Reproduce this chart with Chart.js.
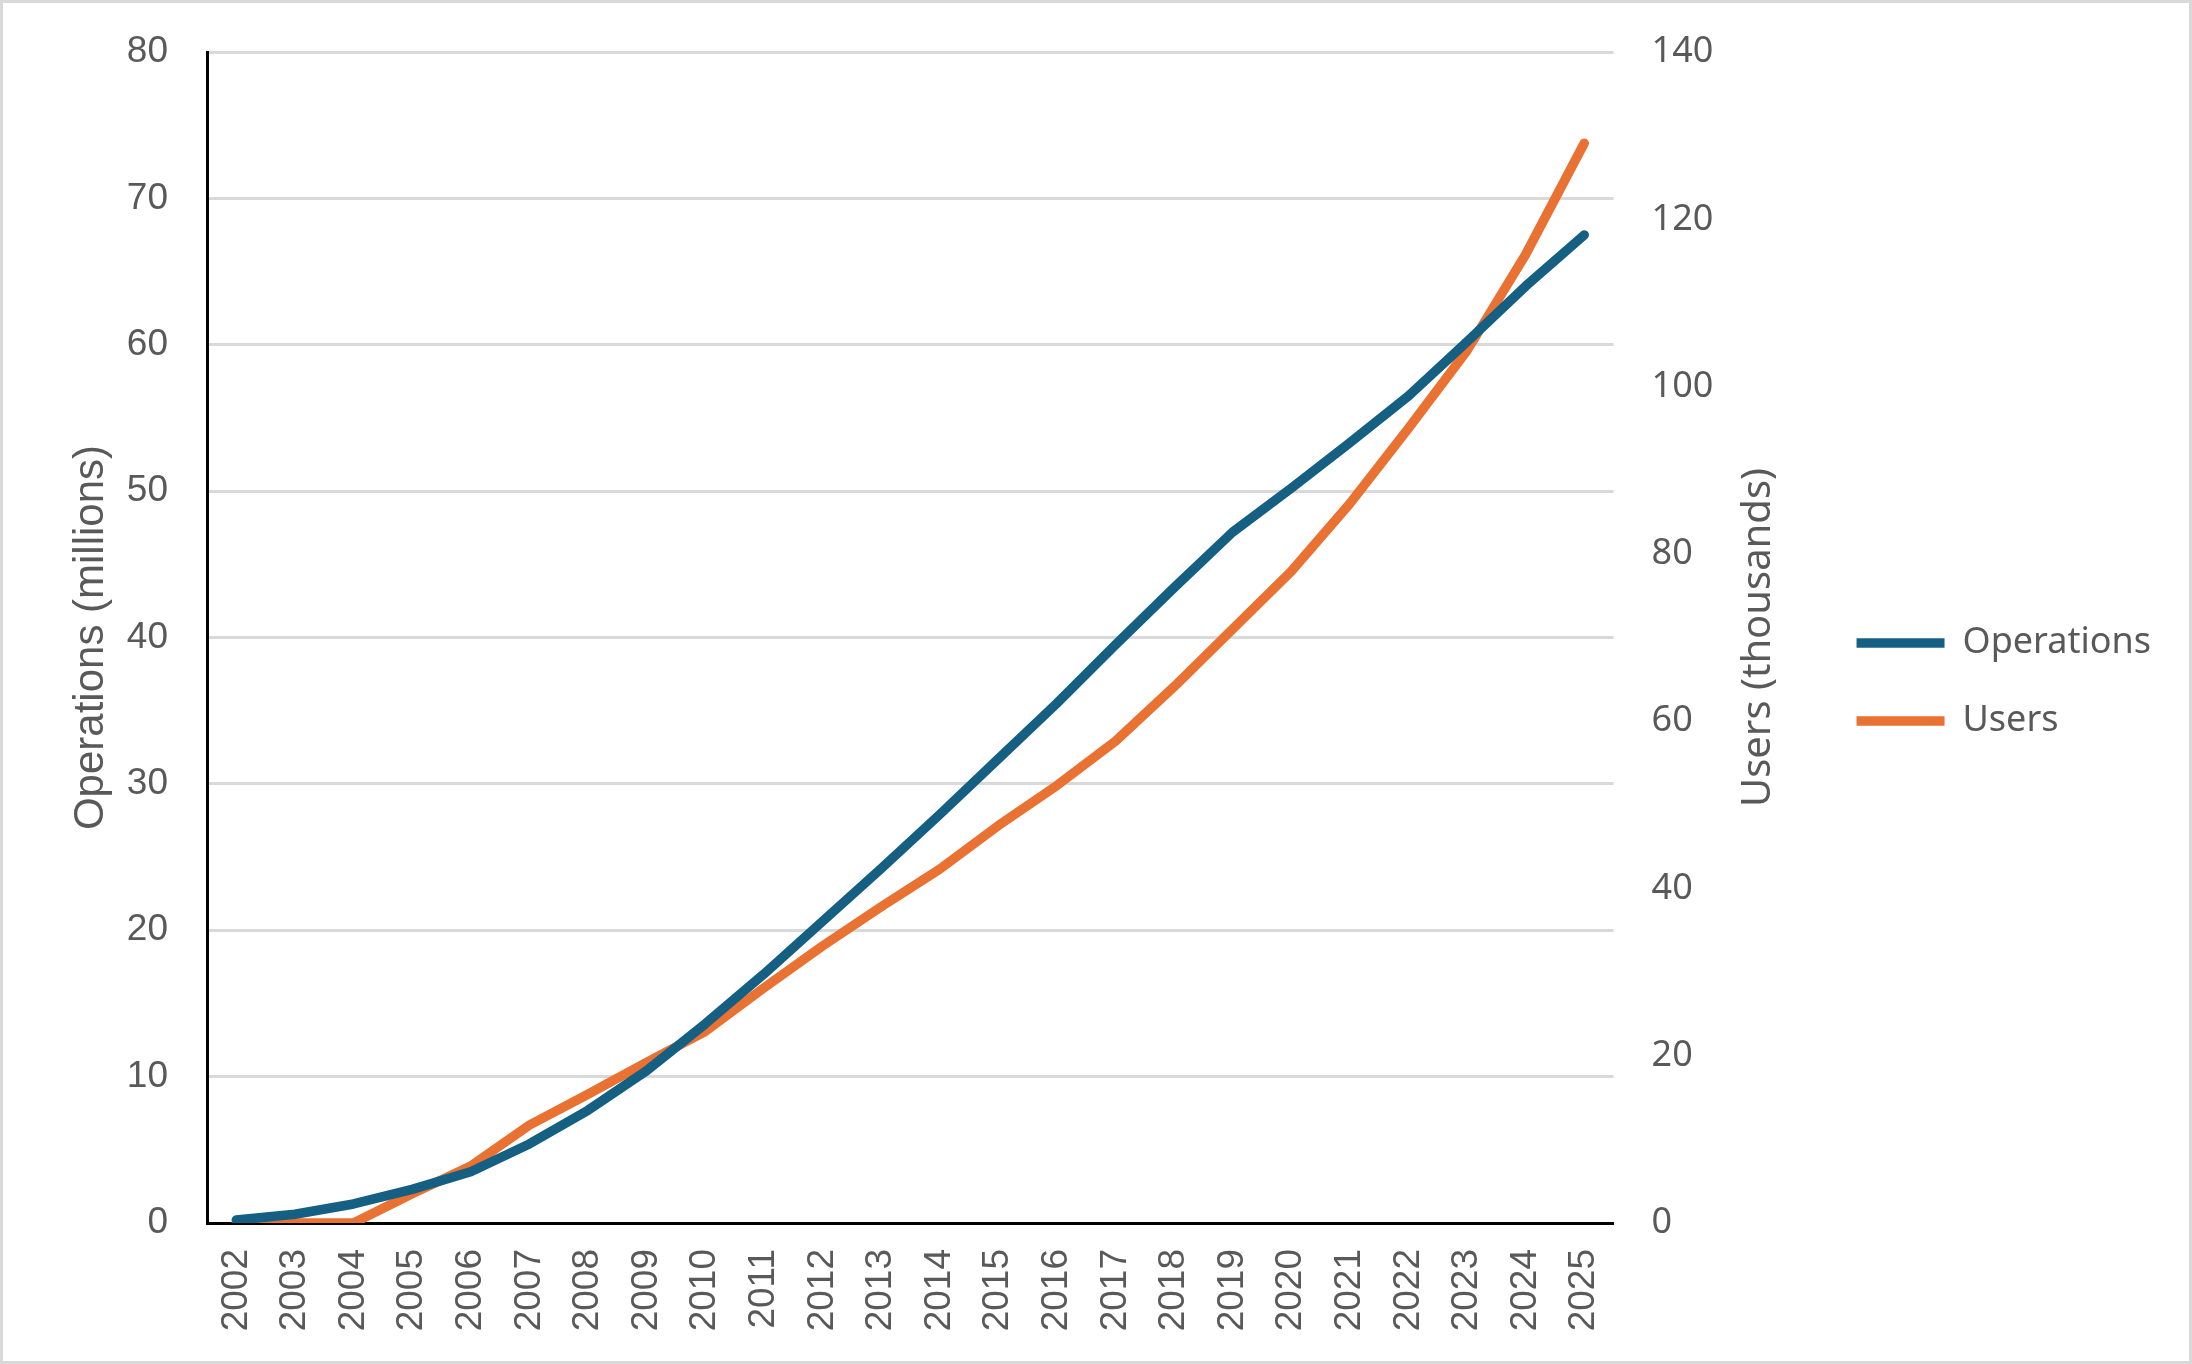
<!DOCTYPE html>
<html lang="en">
<head>
<meta charset="utf-8">
<title>Operations and Users</title>
<script src="https://cdn.jsdelivr.net/npm/chart.js@4.4.1/dist/chart.umd.min.js"></script>
<style>
    html, body { margin: 0; padding: 0; background: #ffffff; }
    #chartWrap { width: 2192px; height: 1364px; }
</style>
</head>
<body>
<div id="chartWrap">
    <canvas id="opsUsersChart" width="2192" height="1364"></canvas>
</div>
<script>
// Chart data
const years = ['2002', '2003', '2004', '2005', '2006', '2007', '2008', '2009',
    '2010', '2011', '2012', '2013', '2014', '2015', '2016', '2017',
    '2018', '2019', '2020', '2021', '2022', '2023', '2024', '2025'];

// Operations, millions (left axis)
const operations = [0.2, 0.6, 1.3, 2.3, 3.5, 5.4, 7.7, 10.4, 13.6, 17.0, 20.6, 24.2,
    27.9, 31.7, 35.5, 39.5, 43.4, 47.2, 50.2, 53.3, 56.5, 60.2, 64.0, 67.5];

// Users, thousands (right axis)
const users = [0, 0, 0, 3.5, 6.8, 11.7, 15.4, 19.2, 22.9, 28.1, 33.1, 37.8,
    42.3, 47.5, 52.3, 57.6, 64.1, 71.0, 77.9, 86.0, 95.0, 104.3, 115.8, 129.1];

const leftTicks = { min: 0, max: 80, step: 10 };
const rightTicks = { min: 0, max: 140, step: 20 };

(function() {
    'use strict';

    const TEXT_COLOR = '#595959';
    const GRID_COLOR = '#d9d9d9';
    const OPS_COLOR = '#156082';
    const USERS_COLOR = '#e97132';
    const ARIAL = "'Liberation Sans', Arial, sans-serif";
    const APTOS = "'Noto Sans', 'Liberation Sans', sans-serif";
    const PLOT_TOP = 52;
    const LINE_WIDTH = 9.5;

    /**
     * Right axis title reads bottom-to-top, so draw it by hand,
     * plus the thin grey frame round the whole picture
     */
    const extrasPlugin = {
        id: 'extras',
        beforeDraw(chart) {
            const ctx = chart.ctx;
            ctx.save();
            ctx.fillStyle = '#ffffff';
            ctx.fillRect(0, 0, chart.width, chart.height);
            ctx.restore();
        },
        afterDraw(chart) {
            const ctx = chart.ctx;
            const area = chart.chartArea;
            const scale = chart.scales.y1;

            ctx.save();
            ctx.translate(scale.left + 145, (area.top + area.bottom) / 2);
            ctx.rotate(-Math.PI / 2);
            ctx.font = '40px ' + APTOS;
            ctx.fillStyle = TEXT_COLOR;
            ctx.textAlign = 'center';
            ctx.textBaseline = 'middle';
            ctx.fillText('Users (thousands)', 0, 0);
            ctx.restore();

            ctx.save();
            ctx.strokeStyle = GRID_COLOR;
            ctx.lineWidth = 3;
            ctx.strokeRect(1.5, 1.5, chart.width - 3, chart.height - 3);
            ctx.restore();
        }
    };

    /**
     * Pin the vertical axes' overhang so the plot top sits where it should
     */
    function pinVerticalPadding(scale) {
        scale.paddingTop = PLOT_TOP;
        scale.paddingBottom = 0;
    }

    function initChart() {
        const canvas = document.getElementById('opsUsersChart');
        if (!canvas) return;

        new Chart(canvas.getContext('2d'), {
            type: 'line',
            data: {
                labels: years,
                datasets: [
                    {
                        label: 'Operations',
                        data: operations,
                        yAxisID: 'y',
                        borderColor: OPS_COLOR,
                        backgroundColor: OPS_COLOR,
                        borderWidth: LINE_WIDTH,
                        borderCapStyle: 'round',
                        borderJoinStyle: 'round',
                        pointRadius: 0,
                        tension: 0
                    },
                    {
                        label: 'Users',
                        data: users,
                        yAxisID: 'y1',
                        borderColor: USERS_COLOR,
                        backgroundColor: USERS_COLOR,
                        borderWidth: LINE_WIDTH,
                        borderCapStyle: 'round',
                        borderJoinStyle: 'round',
                        pointRadius: 0,
                        tension: 0
                    }
                ]
            },
            options: {
                responsive: false,
                animation: false,
                devicePixelRatio: 1,
                layout: {
                    padding: { top: 0, right: 31, bottom: 0, left: 0 }
                },
                plugins: {
                    legend: {
                        display: true,
                        position: 'right',
                        labels: {
                            color: TEXT_COLOR,
                            usePointStyle: true,
                            pointStyle: 'line',
                            pointStyleWidth: 88,
                            padding: 42,
                            font: { family: APTOS, size: 36 }
                        }
                    },
                    tooltip: { enabled: false }
                },
                scales: {
                    x: {
                        offset: true,
                        grid: { display: false, drawTicks: false },
                        border: { display: true, color: '#000000', width: 3 },
                        ticks: {
                            color: TEXT_COLOR,
                            padding: 26,
                            minRotation: 90,
                            maxRotation: 90,
                            autoSkip: false,
                            font: { family: ARIAL, size: 37 }
                        },
                        afterFit(scale) {
                            scale.height = 141;
                        }
                    },
                    y: {
                        position: 'left',
                        min: leftTicks.min,
                        max: leftTicks.max,
                        grid: { color: GRID_COLOR, lineWidth: 3, drawTicks: false },
                        border: { display: true, color: '#000000', width: 3 },
                        ticks: {
                            stepSize: leftTicks.step,
                            color: TEXT_COLOR,
                            padding: 39,
                            font: { family: ARIAL, size: 37 }
                        },
                        title: {
                            display: true,
                            text: 'Operations (millions)',
                            color: TEXT_COLOR,
                            padding: { top: 66, bottom: 0 },
                            font: { family: ARIAL, size: 42 }
                        },
                        afterFit(scale) {
                            scale.width = 207;
                            pinVerticalPadding(scale);
                        }
                    },
                    y1: {
                        position: 'right',
                        min: rightTicks.min,
                        max: rightTicks.max,
                        grid: { display: false, drawTicks: false },
                        border: { display: false },
                        ticks: {
                            stepSize: rightTicks.step,
                            color: TEXT_COLOR,
                            padding: 38,
                            font: { family: APTOS, size: 36 }
                        },
                        afterFit(scale) {
                            scale.width = 201;
                            pinVerticalPadding(scale);
                        }
                    }
                }
            },
            plugins: [extrasPlugin]
        });
    }

    initChart();
})();
</script>
</body>
</html>
